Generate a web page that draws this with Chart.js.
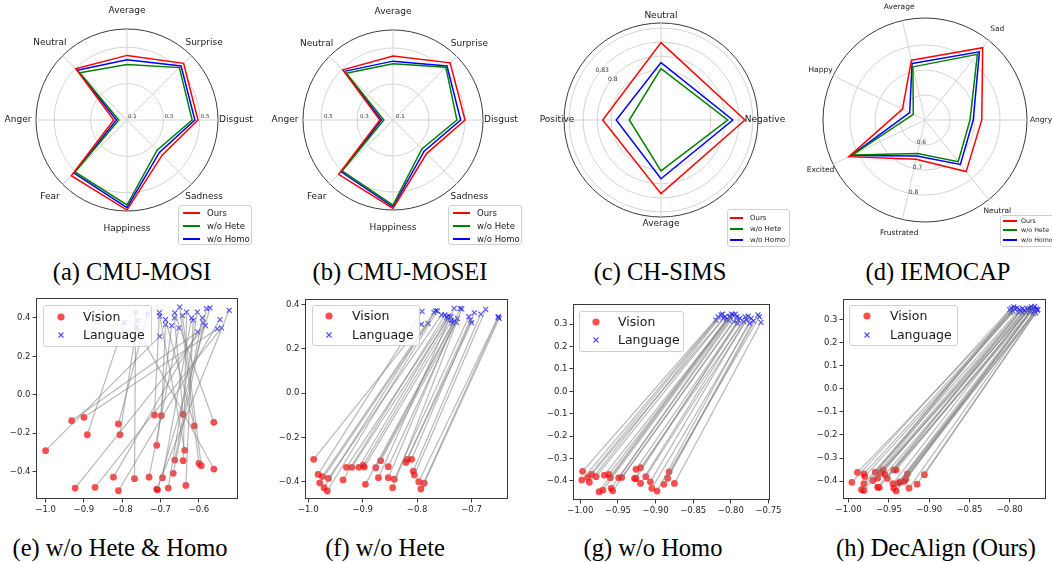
<!DOCTYPE html>
<html><head><meta charset="utf-8">
<script src="https://cdn.jsdelivr.net/npm/chart.js@4.4.1/dist/chart.umd.min.js"></script>
<style>
html,body{margin:0;padding:0;background:#fff;}
body{width:1052px;height:562px;position:relative;overflow:hidden;font-family:"DejaVu Sans",sans-serif;}
canvas{position:absolute;}
.cap{position:absolute;font-family:"Liberation Serif","Times New Roman",serif;font-size:24.5px;line-height:28px;white-space:nowrap;transform:translateX(-50%);color:#000;}
.lg{position:absolute;background:rgba(255,255,255,0.8);border:1px solid #d0d0d0;border-radius:3px;box-sizing:border-box;color:#1a1a1a;overflow:visible;}
.lg span{position:absolute;white-space:nowrap;font-family:"DejaVu Sans",sans-serif;}
.lg b{position:absolute;display:block;height:2px;}
.lg svg{position:absolute;}
</style>
</head><body>
<script>
// ---------------- data ----------------
const seriesNames = ['Ours', 'w/o Hete', 'w/o Homo'];

const mosiLabels = ['Average', 'Surprise', 'Disgust', 'Sadness', 'Happiness', 'Fear', 'Anger', 'Neutral'];
const mosiOurs = [0.455, 0.540, 0.490, 0.373, 0.595, 0.533, 0.173, 0.498];
const mosiHete = [0.405, 0.507, 0.458, 0.334, 0.567, 0.504, 0.145, 0.467];
const mosiHomo = [0.431, 0.520, 0.473, 0.352, 0.582, 0.512, 0.158, 0.486];
const mosiTicks = [0.1, 0.3, 0.5];

const moseiLabels = ['Average', 'Surprise', 'Disgust', 'Sadness', 'Happiness', 'Fear', 'Anger', 'Neutral'];
const moseiOurs = [0.455, 0.549, 0.500, 0.364, 0.591, 0.527, 0.173, 0.494];
const moseiHete = [0.413, 0.515, 0.455, 0.327, 0.573, 0.500, 0.151, 0.467];
const moseiHomo = [0.427, 0.524, 0.476, 0.345, 0.582, 0.507, 0.164, 0.482];
const moseiTicks = [0.1, 0.3, 0.5];

const simsLabels = ['Neutral', 'Negative', 'Average', 'Positive'];
const simsOurs = [0.829, 0.843, 0.821, 0.788];
const simsHete = [0.773, 0.806, 0.772, 0.731];
const simsHomo = [0.786, 0.817, 0.789, 0.759];
const simsTicks = [0.8, 0.83];

const iemoLabels = ['Average', 'Sad', 'Angry', 'Neutral', 'Frustrated', 'Excited', 'Happy'];
const iemoOurs = [0.745, 0.870, 0.727, 0.764, 0.661, 0.838, 0.600];
const iemoHete = [0.718, 0.836, 0.680, 0.713, 0.637, 0.822, 0.552];
const iemoHomo = [0.732, 0.849, 0.693, 0.727, 0.648, 0.828, 0.568];
const iemoTicks = [0.6, 0.7, 0.8];

// scatter: vision point i is linked to language point i
const eVisionX = [-1.000,-0.932,-0.900,-0.891,-0.923,-0.871,-0.810,-0.806,-0.823,-0.810,-0.768,-0.730,-0.716,-0.698,-0.710,-0.695,-0.710,-0.708,-0.680,-0.667,-0.663,-0.641,-0.641,-0.637,-0.634,-0.612,-0.600,-0.594,-0.561,-0.561];
const eVisionY = [-0.292,-0.136,-0.118,-0.209,-0.487,-0.483,-0.153,-0.209,-0.430,-0.501,-0.438,-0.430,-0.106,-0.110,-0.264,-0.433,-0.492,-0.496,-0.487,-0.410,-0.341,-0.103,-0.344,-0.290,-0.473,-0.163,-0.358,-0.370,-0.144,-0.388];
const eLangX = [-0.702,-0.603,-0.552,-0.794,-0.583,-0.541,-0.734,-0.760,-0.589,-0.545,-0.765,-0.652,-0.703,-0.687,-0.671,-0.619,-0.521,-0.571,-0.604,-0.580,-0.591,-0.664,-0.632,-0.702,-0.615,-0.687,-0.650,-0.643,-0.663,-0.763];
const eLangY = [0.304,0.327,0.343,0.377,0.360,0.348,0.421,0.386,0.374,0.391,0.430,0.348,0.428,0.365,0.360,0.400,0.440,0.452,0.430,0.449,0.400,0.400,0.430,0.409,0.388,0.391,0.456,0.412,0.426,0.351];
const eXTicks = [-1.0, -0.9, -0.8, -0.7, -0.6];
const eYTicks = [-0.4, -0.2, 0.0, 0.2, 0.4];

const fVisionX = [-0.990,-0.982,-0.979,-0.974,-0.971,-0.965,-0.963,-0.936,-0.930,-0.920,-0.907,-0.899,-0.897,-0.895,-0.876,-0.871,-0.867,-0.853,-0.853,-0.845,-0.842,-0.821,-0.818,-0.810,-0.807,-0.805,-0.797,-0.793,-0.787];
const fVisionY = [-0.299,-0.367,-0.405,-0.377,-0.427,-0.442,-0.385,-0.392,-0.335,-0.335,-0.335,-0.325,-0.334,-0.412,-0.337,-0.382,-0.305,-0.332,-0.382,-0.427,-0.389,-0.313,-0.299,-0.299,-0.352,-0.370,-0.400,-0.433,-0.407];
const fLangX = [-0.792,-0.791,-0.780,-0.769,-0.766,-0.763,-0.755,-0.749,-0.746,-0.744,-0.742,-0.738,-0.737,-0.735,-0.732,-0.732,-0.728,-0.726,-0.721,-0.718,-0.705,-0.702,-0.700,-0.695,-0.683,-0.674,-0.651,-0.651,-0.649];
const fLangY = [0.310,0.368,0.314,0.364,0.371,0.370,0.352,0.352,0.341,0.332,0.347,0.344,0.326,0.314,0.322,0.382,0.319,0.337,0.382,0.379,0.344,0.329,0.317,0.362,0.356,0.377,0.344,0.340,0.337];
const fXTicks = [-1.0, -0.9, -0.8, -0.7];
const fYTicks = [-0.4, -0.2, 0.0, 0.2, 0.4];

const gVisionX = [-0.998,-0.997,-0.990,-0.988,-0.985,-0.979,-0.975,-0.970,-0.968,-0.962,-0.960,-0.959,-0.957,-0.949,-0.945,-0.928,-0.926,-0.926,-0.920,-0.920,-0.913,-0.907,-0.905,-0.898,-0.889,-0.884,-0.882,-0.875];
const gVisionY = [-0.396,-0.357,-0.384,-0.406,-0.371,-0.381,-0.448,-0.441,-0.374,-0.371,-0.386,-0.433,-0.444,-0.386,-0.384,-0.389,-0.389,-0.348,-0.341,-0.411,-0.381,-0.404,-0.433,-0.445,-0.415,-0.388,-0.359,-0.411];
const gLangX = [-0.820,-0.817,-0.813,-0.811,-0.810,-0.808,-0.806,-0.803,-0.802,-0.801,-0.799,-0.797,-0.796,-0.794,-0.792,-0.791,-0.790,-0.788,-0.783,-0.781,-0.779,-0.777,-0.775,-0.773,-0.770,-0.764,-0.762,-0.760];
const gLangY = [0.318,0.333,0.341,0.345,0.326,0.333,0.321,0.318,0.333,0.336,0.345,0.341,0.311,0.345,0.333,0.303,0.318,0.326,0.311,0.333,0.318,0.336,0.303,0.326,0.315,0.341,0.333,0.308];
const gXTicks = [-1.0, -0.95, -0.9, -0.85, -0.8, -0.75];
const gYTicks = [-0.4, -0.3, -0.2, -0.1, 0.0, 0.1, 0.2, 0.3];

const hVisionX = [-0.996,-0.989,-0.984,-0.981,-0.981,-0.981,-0.980,-0.970,-0.967,-0.964,-0.964,-0.962,-0.960,-0.957,-0.955,-0.952,-0.945,-0.944,-0.944,-0.941,-0.941,-0.938,-0.936,-0.931,-0.929,-0.927,-0.925,-0.915,-0.906];
const hVisionY = [-0.405,-0.362,-0.437,-0.411,-0.440,-0.368,-0.380,-0.397,-0.361,-0.387,-0.426,-0.427,-0.362,-0.351,-0.372,-0.388,-0.411,-0.351,-0.430,-0.351,-0.442,-0.408,-0.403,-0.401,-0.391,-0.368,-0.430,-0.413,-0.372];
const hLangX = [-0.800,-0.799,-0.798,-0.796,-0.795,-0.794,-0.791,-0.789,-0.788,-0.786,-0.784,-0.784,-0.782,-0.780,-0.778,-0.777,-0.776,-0.775,-0.774,-0.773,-0.772,-0.771,-0.770,-0.769,-0.769,-0.768,-0.767,-0.766,-0.765];
const hLangY = [0.342,0.330,0.349,0.335,0.354,0.345,0.349,0.330,0.342,0.335,0.328,0.347,0.339,0.330,0.345,0.339,0.349,0.330,0.339,0.354,0.342,0.325,0.349,0.335,0.356,0.328,0.345,0.339,0.342];
const hXTicks = [-1.0, -0.95, -0.9, -0.85, -0.8];
const hYTicks = [-0.4, -0.3, -0.2, -0.1, 0.0, 0.1, 0.2, 0.3];

const captions = ['(a) CMU-MOSI', '(b) CMU-MOSEI', '(c) CH-SIMS', '(d) IEMOCAP',
                  '(e) w/o Hete & Homo', '(f) w/o Hete', '(g) w/o Homo', '(h) DecAlign (Ours)'];

// ---------------- rendering ----------------
const lineColors = ['#ff0000', '#008000', '#0000ff'];
Chart.defaults.font.family = '"DejaVu Sans", sans-serif';

function fmt(v, dec) {
  const s = Math.abs(v) < 1e-12 ? (0).toFixed(dec) : v.toFixed(dec);
  return s.replace('-', '\u2212');
}

const radarText = {
  id: 'radarText',
  afterDraw(chart, args, o) {
    const s = chart.scales.r, ctx = chart.ctx;
    ctx.save();
    ctx.fillStyle = '#1a1a1a';
    ctx.textAlign = 'center'; ctx.textBaseline = 'middle';
    ctx.font = o.labelSize + 'px "DejaVu Sans"';
    chart.data.labels.forEach((lab, i) => {
      const p = s.getPointPosition(i, s.drawingArea + o.labelPad);
      ctx.fillText(lab, p.x, p.y);
    });
    ctx.font = o.tickSize + 'px "DejaVu Sans"';
    ctx.fillStyle = '#333';
    ctx.textAlign = o.tickAlign;
    const a = o.tickAngle * Math.PI / 180;
    o.tickValues.forEach(v => {
      const d = s.getDistanceFromCenterForValue(v) + (o.tickDr || 0);
      ctx.fillText(String(v), s.xCenter + Math.cos(a) * d + (o.tickDx || 0), s.yCenter + Math.sin(a) * d + (o.tickDy || 0));
    });
    ctx.restore();
  }
};

const framePlugin = {
  id: 'frame',
  afterDraw(chart) {
    const a = chart.chartArea, c = chart.ctx;
    c.save(); c.strokeStyle = '#3a3a3a'; c.lineWidth = 1;
    c.strokeRect(Math.round(a.left) + 0.5, Math.round(a.top) + 0.5, Math.round(a.right - a.left) - 1, Math.round(a.bottom - a.top) - 1);
    c.restore();
  }
};

function makeCanvas(left, top, w, h) {
  const c = document.createElement('canvas');
  c.width = w; c.height = h;
  c.style.left = left + 'px'; c.style.top = top + 'px';
  c.style.width = w + 'px'; c.style.height = h + 'px';
  document.body.appendChild(c);
  return c;
}

function radar(left, pad, labels, series, rMin, rMax, gridTicks, textOpts, startAngle) {
  const cv = makeCanvas(left, 0, 263, 250);
  new Chart(cv, {
    type: 'radar',
    data: {
      labels: labels,
      datasets: series.map((d, i) => ({
        label: seriesNames[i], data: d, borderColor: lineColors[i], borderWidth: 1.5,
        backgroundColor: 'rgba(0,0,0,0)', fill: false, pointRadius: 0, pointHoverRadius: 0, tension: 0
      }))
    },
    options: {
      responsive: false, animation: false, devicePixelRatio: 1,
      layout: { padding: pad },
      plugins: { legend: { display: false }, tooltip: { enabled: false }, radarText: textOpts },
      scales: {
        r: {
          min: rMin, max: rMax, startAngle: startAngle || 0,
          ticks: { display: false },
          pointLabels: { display: false },
          grid: { circular: true, lineWidth: 1,
                  color: ctx => (ctx.tick && Math.abs(ctx.tick.value - rMax) < 1e-9) ? '#3c3c3c' : '#d4d4d4' },
          angleLines: { display: true, color: '#d4d4d4', lineWidth: 1 },
          afterBuildTicks: s => { s.ticks = gridTicks.map(v => ({ value: v })); }
        }
      }
    },
    plugins: [radarText]
  });
}

function axisOpts(range, ticks, dec, which) {
  return {
    type: 'linear', min: range[0], max: range[1],
    afterBuildTicks: s => { s.ticks = ticks.map(v => ({ value: v })); },
    afterFit: s => { if (which === 'x') s.height = 20; else s.width = 30; },
    ticks: { autoSkip: false, maxRotation: 0, minRotation: 0, padding: 2, color: '#262626',
             font: { size: 8.5, family: '"DejaVu Sans"' }, callback: v => fmt(v, dec) },
    grid: { drawOnChartArea: false, drawTicks: true, tickLength: 3.5, color: '#3c3c3c', lineWidth: 1 },
    border: { display: false }
  };
}

function scatter(left, pad, vx, vy, lx, ly, xr, yr, xt, yt, xdec) {
  const cv = makeCanvas(left, 290, 263, 230);
  const ds = [];
  vx.forEach((x, i) => ds.push({
    data: [{ x: x, y: vy[i] }, { x: lx[i], y: ly[i] }], showLine: true,
    borderColor: 'rgba(128,128,128,0.55)', borderWidth: 1.2, pointRadius: 0, pointHoverRadius: 0
  }));
  ds.push({ label: 'Vision', data: vx.map((x, i) => ({ x: x, y: vy[i] })), showLine: false,
            pointStyle: 'circle', pointRadius: 3.4, backgroundColor: 'rgba(255,0,0,0.7)', borderWidth: 0 });
  ds.push({ label: 'Language', data: lx.map((x, i) => ({ x: x, y: ly[i] })), showLine: false,
            pointStyle: 'crossRot', pointRadius: 3.5, borderColor: 'rgba(0,0,255,0.7)',
            backgroundColor: 'rgba(0,0,255,0.7)', borderWidth: 1.1 });
  new Chart(cv, {
    type: 'scatter',
    data: { datasets: ds },
    options: {
      responsive: false, animation: false, devicePixelRatio: 1,
      layout: { padding: pad },
      plugins: { legend: { display: false }, tooltip: { enabled: false } },
      scales: { x: axisOpts(xr, xt, xdec, 'x'), y: axisOpts(yr, yt, 1, 'y') }
    },
    plugins: [framePlugin]
  });
}

function box(L, T, W, H) {
  const d = document.createElement('div');
  d.className = 'lg';
  d.style.left = L + 'px'; d.style.top = T + 'px'; d.style.width = W + 'px'; d.style.height = H + 'px';
  document.body.appendChild(d);
  return d;
}

function radarLegend(L, T, W, H, y0, dy, lx, lw, tx, fs) {
  const d = box(L, T, W, H);
  seriesNames.forEach((n, i) => {
    const y = Math.round(y0 + i * dy - T - 1);
    const ln = document.createElement('b');
    ln.style.left = (lx - L - 1) + 'px'; ln.style.top = (y - 1) + 'px'; ln.style.width = lw + 'px';
    ln.style.background = lineColors[i];
    d.appendChild(ln);
    const sp = document.createElement('span');
    sp.textContent = n;
    sp.style.left = (tx - L - 1) + 'px'; sp.style.top = (y - fs * 0.6) + 'px';
    sp.style.fontSize = fs + 'px'; sp.style.lineHeight = (fs * 1.2) + 'px';
    d.appendChild(sp);
  });
}

function scatterLegend(L, T, W, H, mx, tx, y1, y2) {
  const d = box(L, T, W, H);
  const names = ['Vision', 'Language'];
  [y1, y2].forEach((y, i) => {
    const yy = y - T - 1;
    const svg = document.createElementNS('http://www.w3.org/2000/svg', 'svg');
    svg.setAttribute('width', '12'); svg.setAttribute('height', '12');
    svg.style.left = (mx - L - 1 - 6) + 'px'; svg.style.top = (yy - 6) + 'px';
    svg.innerHTML = i === 0
      ? '<circle cx="6" cy="6" r="3.6" fill="rgba(255,0,0,0.7)"/>'
      : '<path d="M3.5 3.5 L8.5 8.5 M8.5 3.5 L3.5 8.5" stroke="rgba(0,0,255,0.7)" stroke-width="1.1"/>';
    d.appendChild(svg);
    const sp = document.createElement('span');
    sp.textContent = names[i];
    sp.style.left = (tx - L - 1) + 'px'; sp.style.top = (yy - 8) + 'px';
    sp.style.fontSize = '12.5px'; sp.style.lineHeight = '16px';
    d.appendChild(sp);
  });
}

function caption(text, cx, cy) {
  const d = document.createElement('div');
  d.className = 'cap'; d.textContent = text;
  d.style.left = cx + 'px'; d.style.top = (cy - 14) + 'px';
  document.body.appendChild(d);
}

// radar row
radar(0, { left: 36, top: 29, right: 45, bottom: 39 }, mosiLabels, [mosiOurs, mosiHete, mosiHomo],
      0.1, 0.6, [0.1, 0.3, 0.5, 0.6],
      { labelSize: 9, labelPad: 18, tickValues: mosiTicks, tickSize: 5.5, tickAngle: 0, tickAlign: 'left', tickDx: 1, tickDy: -3 });
radar(263, { left: 40, top: 30, right: 43, bottom: 40 }, moseiLabels, [moseiOurs, moseiHete, moseiHomo],
      0.1, 0.6, [0.1, 0.3, 0.5, 0.6],
      { labelSize: 9, labelPad: 18, tickValues: moseiTicks, tickSize: 5.5, tickAngle: 180, tickAlign: 'left', tickDx: 3, tickDy: -3 });
radar(526, { left: 38, top: 23, right: 31, bottom: 33 }, simsLabels, [simsOurs, simsHete, simsHomo],
      0.663, 0.871, [0.663, 0.77, 0.8, 0.83, 0.86, 0.871],
      { labelSize: 9, labelPad: 7, tickValues: simsTicks, tickSize: 6, tickAngle: 220, tickAlign: 'center', tickDr: -1 });
radar(789, { left: 34, top: 18, right: 25, bottom: 28 }, iemoLabels, [iemoOurs, iemoHete, iemoHomo],
      0.5, 0.908, [0.5, 0.6, 0.7, 0.8, 0.908],
      { labelSize: 7.5, labelPad: 14, tickValues: iemoTicks, tickSize: 6, tickAngle: 99, tickAlign: 'center', tickDr: -2 },
      -360 / 28);

radarLegend(178, 205, 74, 40, 213, 13, 183, 17, 207, 8.5);
radarLegend(448, 205, 74, 40, 213, 13, 453, 17, 477, 8.5);
radarLegend(727, 209, 63, 38, 218, 11, 730, 13, 750, 7);
radarLegend(1000, 215, 60, 32, 221, 9.3, 1003, 14, 1021, 6.3);

// scatter row
scatter(0, { left: 6, right: 25, top: 8, bottom: 1 }, eVisionX, eVisionY, eLangX, eLangY,
        [-1.025, -0.498], [-0.544, 0.504], eXTicks, eYTicks, 1);
scatter(263, { left: 12, right: 18, top: 9, bottom: 1 }, fVisionX, fVisionY, fLangX, fLangY,
        [-1.006, -0.633], [-0.478, 0.424], fXTicks, fYTicks, 1);
scatter(526, { left: 17, right: 19, top: 14, bottom: 0 }, gVisionX, gVisionY, gLangX, gLangY,
        [-1.0097, -0.748], [-0.485, 0.39], gXTicks, gYTicks, 2);
scatter(789, { left: 24, right: 6, top: 9, bottom: 1 }, hVisionX, hVisionY, hLangX, hLangY,
        [-1.007, -0.755], [-0.477, 0.388], hXTicks, hYTicks, 2);

scatterLegend(43, 305, 109, 42, 61, 83, 317, 335);
scatterLegend(312, 305, 108, 41, 329, 352, 316, 335);
scatterLegend(579, 311, 105, 41, 596, 618, 322, 340);
scatterLegend(849, 305, 109, 41, 867, 890, 316, 335);

const capX = [132, 400, 660, 938, 120, 385, 653, 936];
captions.forEach((t, i) => caption(t, capX[i], i < 4 ? 272 : 548));
</script>
</body></html>
